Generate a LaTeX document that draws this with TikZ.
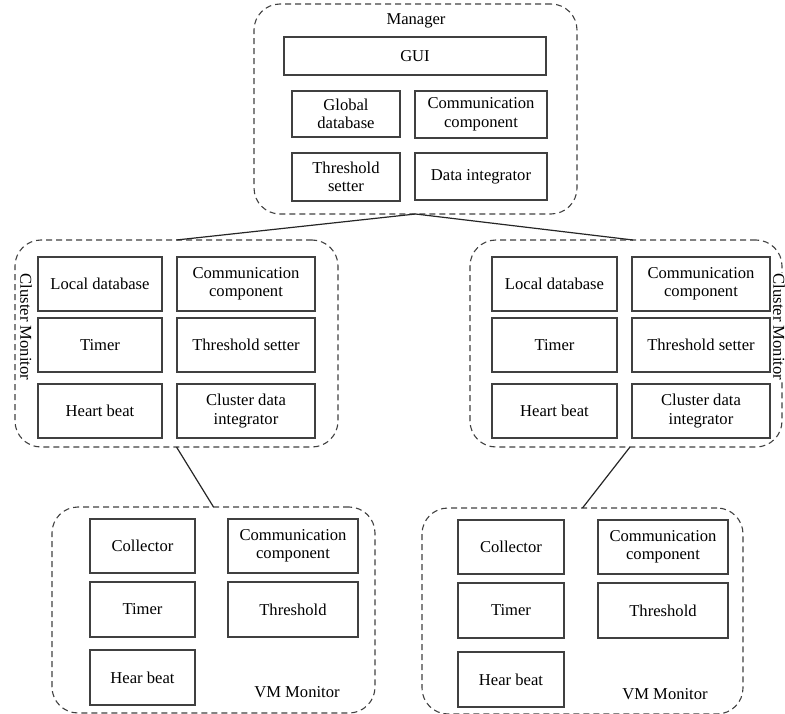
\documentclass[tikz,border=0pt]{standalone}
\usepackage{fontspec}
\setmainfont{Liberation Serif}
\begin{document}
\begin{tikzpicture}[x=1pt,y=-1pt,
  every node/.style={font=\fontsize{16.6}{18.5}\selectfont, text=black},
  box/.style={draw=black!75, line width=1.3pt, rectangle, align=center, inner sep=0pt, outer sep=0pt},
  container/.style={draw=black!75, line width=1.1pt, dash pattern=on 6pt off 4pt, rounded corners=26pt, inner sep=0pt, outer sep=0pt},
  link/.style={draw=black!85, line width=1.2pt}
]
\useasboundingbox (0,0) rectangle (785,714);

% ---------- Manager ----------
\node[container, minimum width=323, minimum height=210] (mgr) at (415.5,109) {};
\node (mgrlbl) at (416,21) {Manager};
\node[box, minimum width=262, minimum height=38] (gui) at (415,56) {GUI};
\node[box, minimum width=108, minimum height=46] (gdb) at (346,114) {Global\\database};
\node[box, minimum width=132, minimum height=47] (mcomm) at (481,114.5) {Communication\\component};
\node[box, minimum width=108, minimum height=48] (mthr) at (346,177) {Threshold\\setter};
\node[box, minimum width=132, minimum height=47] (mdi) at (481,176.5) {Data integrator};

% ---------- Left cluster monitor ----------
\node[container, minimum width=323, minimum height=207] (lc) at (176.5,343.5) {};
\node[rotate=-90] (lclbl) at (26,327) {Cluster Monitor};
\node[box, minimum width=124, minimum height=54] (lcldb) at (100,284) {Local database};
\node[box, minimum width=138, minimum height=54] (lccomm) at (246,284) {Communication\\component};
\node[box, minimum width=124, minimum height=54] (lctim) at (100,345) {Timer};
\node[box, minimum width=138, minimum height=54] (lcthr) at (246,345) {Threshold setter};
\node[box, minimum width=124, minimum height=54] (lchb) at (100,411) {Heart beat};
\node[box, minimum width=138, minimum height=54] (lcdi) at (246,411) {Cluster data\\integrator};

% ---------- Right cluster monitor ----------
\node[container, minimum width=312, minimum height=207] (rc) at (626,343.5) {};
\node[rotate=-90, fill=white, inner sep=1pt] (rclbl) at (779,327) {Cluster Monitor};
\node[box, minimum width=125, minimum height=54] (rcldb) at (554.5,284) {Local database};
\node[box, minimum width=138, minimum height=54] (rccomm) at (701,284) {Communication\\component};
\node[box, minimum width=125, minimum height=54] (rctim) at (554.5,345) {Timer};
\node[box, minimum width=138, minimum height=54] (rcthr) at (701,345) {Threshold setter};
\node[box, minimum width=125, minimum height=54] (rchb) at (554.5,411) {Heart beat};
\node[box, minimum width=138, minimum height=54] (rcdi) at (701,411) {Cluster data\\integrator};

% ---------- Left VM monitor ----------
\node[container, minimum width=323, minimum height=206] (lvm) at (213.5,610) {};
\node[box, minimum width=105, minimum height=54] (lvcol) at (142.5,546) {Collector};
\node[box, minimum width=130, minimum height=54] (lvcomm) at (293,546) {Communication\\component};
\node[box, minimum width=105, minimum height=55] (lvtim) at (142.5,609.5) {Timer};
\node[box, minimum width=130, minimum height=55] (lvthr) at (293,609.5) {Threshold};
\node[box, minimum width=105, minimum height=55] (lvhb) at (142.5,677.5) {Hear beat};
\node (lvlbl) at (297,692) {VM Monitor};

% ---------- Right VM monitor ----------
\node[container, minimum width=321, minimum height=206] (rvm) at (582.5,611) {};
\node[box, minimum width=106, minimum height=54] (rvcol) at (511,547) {Collector};
\node[box, minimum width=130, minimum height=54] (rvcomm) at (663,547) {Communication\\component};
\node[box, minimum width=106, minimum height=55] (rvtim) at (511,610.5) {Timer};
\node[box, minimum width=130, minimum height=55] (rvthr) at (663,610.5) {Threshold};
\node[box, minimum width=106, minimum height=55] (rvhb) at (511,679.5) {Hear beat};
\node (rvlbl) at (665,694) {VM Monitor};

% ---------- Connectors ----------
\coordinate (rctop) at ([xshift=7pt]rc.north);
\coordinate (rcbot) at ([xshift=4pt]rc.south);
\draw[link] (lc.north) -- (mgr.south) -- (rctop);
\draw[link] (lc.south) -- (lvm.north);
\draw[link] (rcbot) -- (rvm.north);
\end{tikzpicture}
\end{document}
